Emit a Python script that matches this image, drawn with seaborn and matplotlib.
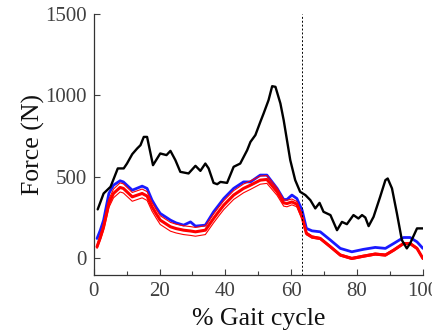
import matplotlib
matplotlib.use('Agg')
import matplotlib.pyplot as plt
from matplotlib.ticker import MultipleLocator
import numpy as np
import pandas as pd
import seaborn as sns

# black trace (measured force)
black_x = [1.2, 3.0, 5.1, 6.1, 7.3, 9.1, 10.1, 11.7, 13.2, 14.2, 15.2, 16.2, 18.0, 20.2,
           22.1, 23.3, 24.8, 26.3, 28.8, 30.9, 32.4, 33.9, 34.9, 36.4, 37.5, 38.5, 40.5,
           42.5, 44.5, 46.6, 47.6, 49.1, 50.6, 51.6, 53.1, 54.2, 55.2, 56.7, 57.7, 58.7,
           59.7, 61.2, 62.7, 64.3, 65.8, 67.3, 68.6, 69.8, 71.9, 73.9, 75.4, 76.9, 78.9,
           80.4, 81.5, 82.5, 83.5, 85.0, 87.0, 88.6, 89.3, 90.6, 92.1, 93.6, 95.1, 96.1,
           98.2, 100]
black_y = [298, 396, 437, 488, 550, 550, 580, 638, 673, 693, 744, 744, 570, 642,
           632, 658, 601, 529, 519, 566, 535, 580, 550, 461, 453, 467, 461,
           560, 580, 662, 713, 755, 836, 888, 970, 1056, 1052, 950, 847, 724,
           601, 478, 406, 386, 355, 304, 338, 283, 263, 170, 221, 207, 263,
           242, 263, 248, 195, 252, 375, 478, 488, 427, 273, 109, 58, 88,
           181, 181]

# model traces share one x grid
model_x = [1, 2, 3, 4.6, 6, 8, 9, 11.7, 14.7, 16.2, 17.7, 19, 20.2, 23.3, 25, 27.3, 29.4,
           30.9, 33.9, 36.4, 38, 39.5, 42.5, 45.5, 47.6, 50.6, 52.6, 55.7, 57.7, 58.7,
           60.2, 61.7, 63.3, 64.6, 66.3, 68.8, 71.9, 74.9, 78.4, 81.9, 85.5, 88.6,
           91.1, 94.1, 96.1, 98.2, 100]
blue_y = [119, 170, 232, 396, 447, 474, 467, 416, 441, 427, 355, 310, 273, 232, 215, 201,
          221, 195, 201, 283, 325, 365, 427, 467, 467, 509, 509, 427, 359, 359,
          386, 365, 293, 181, 166, 160, 109, 58, 37, 52, 64, 58,
          88, 125, 125, 98, 58]
red_mean = [68, 125, 191, 335, 396, 433, 427, 375, 396, 380, 314, 270, 232, 191, 180, 170,
            165, 160, 170, 242, 285, 324, 386, 427, 447, 478, 482, 406, 338, 334,
            344, 330, 250, 150, 128, 119, 68, 17, -4, 10, 23, 17,
            47, 88, 88, 58, -4]
red_sd = [10, 15, 20, 25, 27, 28, 28, 27, 27, 27, 27, 27, 27, 27, 27, 27, 27,
          27, 27, 27, 27, 27, 27, 27, 26, 25, 24, 22, 20, 20,
          18, 16, 12, 8, 7, 6, 6, 6, 6, 6, 6, 6,
          6, 6, 6, 6, 6]

toe_off = 63.4

plt.figure(figsize=(4.32, 3.34), dpi=100)
sns.set_style('ticks')
plt.rcParams['font.family'] = ['Liberation Serif', 'DejaVu Serif']
ax = plt.gca()

df = pd.DataFrame({'x': model_x, 'blue': blue_y, 'mean': red_mean, 'sd': red_sd})
df['upper'] = df['mean'] + df['sd']
df['lower'] = df['mean'] - df['sd']

sns.lineplot(x='x', y='blue', data=df, color='#1a1aff', lw=2, ax=ax)
sns.lineplot(x='x', y='upper', data=df, color='red', lw=0.8, ax=ax)
sns.lineplot(x='x', y='lower', data=df, color='red', lw=0.8, ax=ax)
sns.lineplot(x='x', y='mean', data=df, color='red', lw=2.2, ax=ax)
sns.lineplot(x=black_x, y=black_y, color='black', lw=1.7, ax=ax)
ax.axvline(toe_off, color='black', lw=0.7, ls=(0, (2, 2)))

ax.set_xlim(0, 100)
ax.set_ylim(-105, 1500)
ax.set_xticks([0, 20, 40, 60, 80, 100])
ax.xaxis.set_minor_locator(MultipleLocator(10))
ax.set_yticks([0, 500, 1000, 1500])
ax.tick_params(direction='in', length=4, width=0.8, labelsize=15, colors='#404040', pad=5)
ax.tick_params(which='minor', direction='in', length=3, width=0.8, color='#404040')
sns.despine(ax=ax)
for s in ['left', 'bottom']:
    ax.spines[s].set_linewidth(0.9)
    ax.spines[s].set_color('#333333')
ax.set_xlabel('% Gait cycle', fontsize=18.5, color='#111111', labelpad=5)
ax.set_ylabel('Force (N)', fontsize=18.5, color='#111111', labelpad=0)

plt.subplots_adjust(left=0.217, right=0.979, top=0.958, bottom=0.177)
plt.savefig('out.png', dpi=100)
